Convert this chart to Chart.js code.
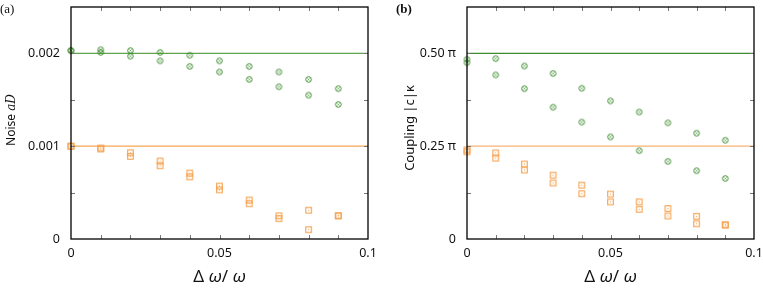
<!DOCTYPE html>
<html>
<head>
<meta charset="utf-8">
<script src="https://cdn.jsdelivr.net/npm/chart.js@4.4.1/dist/chart.umd.min.js"></script>
<style>
  body { margin: 0; background: #fff; }
  #wrap { position: relative; width: 763px; height: 288px; }
  .panel { position: absolute; top: 0; height: 288px; }
</style>
</head>
<body>
<div id="wrap">
  <div class="panel" style="left:0;width:380px"><canvas id="noiseChart"></canvas></div>
  <div class="panel" style="left:380px;width:383px"><canvas id="couplingChart"></canvas></div>
</div>
<script>
// ---- data ----
var detuning = [0, 0.01, 0.02, 0.03, 0.04, 0.05, 0.06, 0.07, 0.08, 0.09];
var xRange = [0, 0.1];
var xLabelTicks = [0, 0.05, 0.1];
var xLabels = ['0', '0.05', '0.1'];
var xTickMarks = [0.01, 0.02, 0.03, 0.04, 0.05, 0.06, 0.07, 0.08, 0.09];

// (a) noise
var noiseGreenHigh = [0.00203, 0.00204, 0.00203, 0.00201, 0.00198, 0.00192, 0.00186, 0.00180, 0.00172, 0.00162];
var noiseGreenLow  = [0.00203, 0.00201, 0.00197, 0.00192, 0.00186, 0.00180, 0.00172, 0.00164, 0.00155, 0.00145];
var noiseOrangeHigh = [0.00100, 0.00098, 0.00093, 0.00084, 0.00071, 0.00057, 0.00042, 0.00025, 0.00031, 0.00025];
var noiseOrangeLow  = [0.00100, 0.00097, 0.00089, 0.00079, 0.00067, 0.00053, 0.00038, 0.00022, 0.00010, 0.00025];
var noiseLevels = [0.002, 0.001];
var noiseTicks = [0, 0.001, 0.002];
var noiseTickLabels = ['0', '0.001', '0.002'];
var noiseTickMarks = [0.0005, 0.001, 0.0015, 0.002];

// (b) coupling, in units of pi
var couplingGreenHigh = [0.484, 0.486, 0.466, 0.446, 0.406, 0.372, 0.342, 0.313, 0.285, 0.266];
var couplingGreenLow  = [0.475, 0.442, 0.405, 0.355, 0.315, 0.275, 0.238, 0.209, 0.184, 0.163];
var couplingOrangeHigh = [0.240, 0.232, 0.202, 0.172, 0.145, 0.121, 0.100, 0.082, 0.061, 0.038];
var couplingOrangeLow  = [0.235, 0.218, 0.186, 0.151, 0.122, 0.100, 0.080, 0.062, 0.041, 0.038];
var couplingLevels = [0.5, 0.25];
var couplingTicks = [0, 0.25, 0.5];
var couplingTickLabels = ['0', '0.25 π', '0.50 π'];
var couplingTickMarks = [0.125, 0.25, 0.375, 0.5];

var GREEN = '#3d8c2e';
var ORANGE = '#f6a04c';

// little marker images (circle with a cross, square with a dot)
function circleMarker(color) {
    var c = document.createElement('canvas');
    c.width = c.height = 9;
    var g = c.getContext('2d');
    g.strokeStyle = color;
    g.lineWidth = 1;
    g.beginPath();
    g.arc(4.5, 4.5, 2.8, 0, 2 * Math.PI);
    g.stroke();
    g.lineWidth = 0.6;
    g.beginPath();
    g.moveTo(3.4, 3.4); g.lineTo(5.6, 5.6);
    g.moveTo(5.6, 3.4); g.lineTo(3.4, 5.6);
    g.stroke();
    return c;
}
function squareMarker(color) {
    var c = document.createElement('canvas');
    c.width = c.height = 9;
    var g = c.getContext('2d');
    g.strokeStyle = color;
    g.lineWidth = 1.1;
    g.strokeRect(1.7, 1.7, 5.6, 5.6);
    g.fillStyle = color;
    g.fillRect(4, 4, 1, 1);
    return c;
}
var circ = circleMarker(GREEN);
var sq = squareMarker(ORANGE);

function pts(ys) {
    return detuning.map(function (x, i) { return { x: x, y: ys[i] }; });
}
function hline(y) {
    return xRange.map(function (x) { return { x: x, y: y }; });
}

function pointSet(ys, img) {
    return { data: pts(ys), pointStyle: img, pointRadius: 4, showLine: false, order: 1, clip: false };
}
function lineSet(y, color) {
    return { data: hline(y), showLine: true, borderColor: color, borderWidth: 1.2, pointRadius: 0, order: 2 };
}

// rich text helper (mixed upright / italic pieces)
function drawRich(ctx, parts, cx, cy, rot) {
    ctx.save();
    ctx.translate(cx, cy);
    if (rot) ctx.rotate(rot);
    ctx.textBaseline = 'middle';
    ctx.fillStyle = '#111';
    var total = 0;
    parts.forEach(function (p) { ctx.font = p.font; total += ctx.measureText(p.text).width; });
    var x = -total / 2;
    parts.forEach(function (p) {
        ctx.font = p.font;
        ctx.fillText(p.text, x, 0);
        x += ctx.measureText(p.text).width;
    });
    ctx.restore();
}

var framePlugin = {
    id: 'frame',
    afterDraw: function (chart, args, o) {
        var a = chart.chartArea, ctx = chart.ctx;
        var xs = chart.scales.x, ys = chart.scales.y;
        ctx.save();
        ctx.strokeStyle = '#777';
        ctx.lineWidth = 1;
        ctx.beginPath();
        xTickMarks.forEach(function (v) {
            var px = Math.round(xs.getPixelForValue(v)) + 0.5;
            ctx.moveTo(px, a.bottom); ctx.lineTo(px, a.bottom - 4);
            ctx.moveTo(px, a.top); ctx.lineTo(px, a.top + 4);
        });
        o.yMarks.forEach(function (v) {
            var py = Math.round(ys.getPixelForValue(v)) + 0.5;
            ctx.moveTo(a.left, py); ctx.lineTo(a.left + 4, py);
            ctx.moveTo(a.right, py); ctx.lineTo(a.right - 4, py);
        });
        ctx.stroke();
        ctx.strokeStyle = '#000';
        ctx.lineWidth = 1.3;
        ctx.strokeRect(a.left, a.top, a.right - a.left, a.bottom - a.top);
        ctx.restore();

        drawRich(ctx, o.yTitle, o.yTitleX, o.yTitleY, -Math.PI / 2);
        drawRich(ctx, [
            { text: 'Δ ', font: '17px "Noto Sans"' },
            { text: 'ω', font: 'italic 17px "Noto Sans"' },
            { text: '/ ', font: '17px "Noto Sans"' },
            { text: 'ω', font: 'italic 17px "Noto Sans"' }
        ], (a.left + a.right) / 2, 277, 0);

        ctx.save();
        ctx.font = o.panelFont;
        ctx.fillStyle = '#111';
        ctx.textBaseline = 'middle';
        ctx.fillText(o.panel, o.panelX, 10);
        ctx.restore();
    }
};

function makeChart(id, cfg) {
    return new Chart(document.getElementById(id), {
        type: 'scatter',
        data: { datasets: cfg.datasets },
        plugins: [framePlugin],
        options: {
            responsive: true,
            maintainAspectRatio: false,
            animation: false,
            layout: { padding: { top: 7, right: cfg.padRight, left: 0, bottom: 0 } },
            plugins: {
                legend: { display: false },
                tooltip: { enabled: false },
                frame: cfg.frame
            },
            scales: {
                x: {
                    type: 'linear',
                    min: 0, max: 0.1,
                    afterBuildTicks: function (s) { s.ticks = xLabelTicks.map(function (v) { return { value: v }; }); },
                    afterFit: function (s) { s.height = 49; s.paddingLeft = 0; s.paddingRight = 0; },
                    grid: { display: false, drawTicks: false },
                    border: { display: false },
                    ticks: {
                        padding: 7,
                        color: '#111',
                        font: { family: 'Noto Sans', size: 12.5 },
                        maxRotation: 0,
                        autoSkip: false,
                        callback: function (v, i) { return xLabels[i]; }
                    }
                },
                y: {
                    type: 'linear',
                    min: cfg.yMin, max: cfg.yMax,
                    afterBuildTicks: function (s) { s.ticks = cfg.yTicks.map(function (v) { return { value: v }; }); },
                    afterFit: function (s) { s.width = cfg.yWidth; s.paddingTop = 0; s.paddingBottom = 0; },
                    grid: { display: false, drawTicks: false },
                    border: { display: false },
                    ticks: {
                        padding: 11,
                        color: '#111',
                        font: { family: 'Noto Sans', size: 12.5 },
                        autoSkip: false,
                        callback: function (v, i) { return cfg.yLabels[i]; }
                    }
                }
            }
        }
    });
}

makeChart('noiseChart', {
    datasets: [
        pointSet(noiseGreenHigh, circ),
        pointSet(noiseGreenLow, circ),
        pointSet(noiseOrangeHigh, sq),
        pointSet(noiseOrangeLow, sq),
        lineSet(noiseLevels[0], '#5fa34c'),
        lineSet(noiseLevels[1], '#f8a554')
    ],
    padRight: 12,
    yMin: 0, yMax: 0.0025,
    yTicks: noiseTicks, yLabels: noiseTickLabels,
    yWidth: 71,
    frame: {
        yMarks: noiseTickMarks,
        yTitle: [
            { text: 'Noise ', font: '12px "Noto Sans"' },
            { text: 'aD', font: 'italic 12px "DejaVu Serif"' }
        ],
        yTitleX: 12, yTitleY: 120,
        panel: '(a)', panelX: 0, panelFont: '13px "Liberation Serif"'
    }
});

makeChart('couplingChart', {
    datasets: [
        pointSet(couplingGreenHigh, circ),
        pointSet(couplingGreenLow, circ),
        pointSet(couplingOrangeHigh, sq),
        pointSet(couplingOrangeLow, sq),
        lineSet(couplingLevels[0], '#3d8c2e'),
        lineSet(couplingLevels[1], '#f8b274')
    ],
    padRight: 9,
    yMin: 0, yMax: 0.625,
    yTicks: couplingTicks, yLabels: couplingTickLabels,
    yWidth: 87,
    frame: {
        yMarks: couplingTickMarks,
        yTitle: [
            { text: 'Coupling |c|κ', font: '13px "Noto Sans"' }
        ],
        yTitleX: 30, yTitleY: 128,
        panel: '(b)', panelX: 16, panelFont: 'bold 13px "Liberation Serif"'
    }
});
</script>
</body>
</html>
